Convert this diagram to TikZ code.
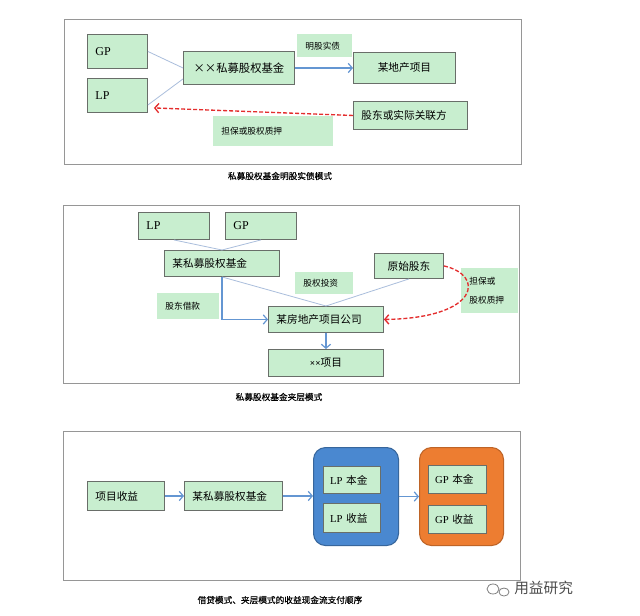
\documentclass[tikz,border=0pt]{standalone}
\usepackage{fontspec}
\setmainfont{Liberation Serif}
\newfontfamily\cjk{Noto Sans CJK SC}
\newfontfamily\cjkcap[FakeBold=0.5]{Noto Sans CJK SC}
\usetikzlibrary{arrows.meta,positioning}
\definecolor{boxgreen}{RGB}{200,238,207}
\definecolor{boxline}{RGB}{105,110,105}
\definecolor{framegray}{RGB}{150,150,150}
\definecolor{linkblue}{RGB}{170,190,220}
\definecolor{flowblue}{RGB}{100,150,210}
\definecolor{pledgered}{RGB}{228,45,45}
\definecolor{lpblue}{RGB}{74,136,208}
\definecolor{gporange}{RGB}{237,125,49}
\tikzset{wh/.code 2 args={\pgfmathsetlengthmacro\boxtw{#1*0.75pt-12pt}%
  \tikzset{text width/.expanded=\boxtw, minimum height=#2*0.75pt}}}
\tikzstyle{block} = [rectangle, draw=boxline, line width=0.7pt, fill=boxgreen,
anchor=north west, inner xsep=6pt, inner ysep=0pt, align=left,
font=\cjk\fontsize{8}{9}\selectfont]
\tikzstyle{latin} = [font=\rmfamily\fontsize{9}{10}\selectfont]
\tikzstyle{tag} = [block, draw=none, font=\cjk\fontsize{6.5}{14}\selectfont]
\tikzstyle{link} = [draw=linkblue, line width=0.6pt]
\tikzstyle{flow} = [draw=flowblue, line width=0.9pt, -{Straight Barb[length=3pt,width=7pt]}]
\tikzstyle{pledge} = [draw=pledgered, line width=1pt, dash pattern=on 3pt off 1.5pt,
-{Straight Barb[length=3pt,width=7pt]}]
\tikzstyle{frame} = [draw=framegray, line width=0.7pt]
\tikzstyle{capt} = [font=\cjkcap\fontsize{6.5}{8}\selectfont]
\tikzstyle{panelgroup} = [rectangle, rounded corners=9pt, line width=0.8pt,
anchor=north west, minimum width=#1]
\begin{document}
\begin{tikzpicture}[x=0.75pt, y=-0.75pt]
  \fill[white] (0,0) rectangle (640,615);
  \useasboundingbox (0,0) rectangle (640,615);

  % Panel 1: 明股实债
  \draw[frame] (64,19) rectangle (521,164);
  \node [block, latin, wh={60}{34}] (gp1) at (87,34) {GP};
  \node [block, latin, wh={60}{34}] (lp1) at (87,78) {LP};
  \node [block, wh={111}{33}, align=center, font=\cjk\fontsize{8.5}{9}\selectfont] (fund1) at (183,51) {××私募股权基金};
  \node [tag, wh={55}{23}] (debt1) at (297,34) {明股实债};
  \node [block, wh={102}{31}, align=center] (proj1) at (353,52) {某地产项目};
  \node [block, wh={114}{28}] (holder1) at (353,101) {股东或实际关联方};
  \node [tag, wh={120}{30}] (pledge1) at (213,116) {担保或股权质押};
  \path [link] (gp1.east) -- (fund1.west);
  \path [link] ([yshift=6pt]lp1.south east) -- ([yshift=4.5pt]fund1.south west);
  \path [flow] (fund1.east) -- (proj1.west);
  \path [pledge] (holder1.west) -- ([xshift=4.5pt,yshift=3.75pt]lp1.south east);
  \node [capt] (cap1) at (280,176) {私募股权基金明股实债模式};

  % Panel 2: 夹层模式
  \draw[frame] (63,205) rectangle (519,383);
  \node [block, latin, wh={71}{27}] (lp2) at (138,212) {LP};
  \node [block, latin, wh={71}{27}] (gp2) at (225,212) {GP};
  \node [block, wh={115}{26}] (fund2) at (164,250) {某私募股权基金};
  \node [block, wh={69}{25}, align=center] (orig2) at (374,253) {原始股东};
  \node [tag, wh={58}{22}] (invest2) at (295,272) {股权投资};
  \node [tag, wh={62}{26}] (loan2) at (157,293) {股东借款};
  \node [block, wh={115}{26}] (comp2) at (268,306) {某房地产项目公司};
  \node [block, wh={115}{27}, align=center] (proj2) at (268,349) {{\rmfamily\bfseries\fontsize{7}{8}\selectfont ××}项目};
  \node [tag, wh={57}{45}] (pledge2) at (461,268) {担保或\\股权质押};
  \path [link] (lp2.south) -- (fund2.north);
  \path [link] (gp2.south) -- (fund2.north);
  \path [link] (fund2.south) -- (comp2.north);
  \path [link] (orig2.south) -- (comp2.north);
  \path [flow] (fund2.south) |- (comp2.west);
  \path [flow] (comp2.south) -- (proj2.north);
  \path [pledge] (orig2.east) .. controls (485,275) and (480,318) .. (comp2.east);
  \node [capt] (cap2) at (279,397) {私募股权基金夹层模式};

  % Panel 3: 收益支付顺序
  \draw[frame] (63,431) rectangle (520,580);
  \node [panelgroup=63.75pt, minimum height=73.5pt, fill=lpblue, draw=lpblue!75!black] (lpgrp) at (313,447) {};
  \node [panelgroup=63pt, minimum height=73.5pt, fill=gporange, draw=gporange!80!black] (gpgrp) at (419,447) {};
  \node [block, wh={77}{29}] (inc3) at (87,481) {项目收益};
  \node [block, wh={98}{29}] (fund3) at (184,481) {某私募股权基金};
  \node [block, wh={60}{27}, inner xsep=5pt] (lpp3) at (323,466) {{\rmfamily LP} 本金};
  \node [block, wh={60}{29}, inner xsep=5pt] (lpi3) at (323,503) {{\rmfamily LP} 收益};
  \node [block, wh={61}{28}, inner xsep=5pt] (gpp3) at (428,465) {{\rmfamily GP} 本金};
  \node [block, wh={61}{28}, inner xsep=5pt] (gpi3) at (428,505) {{\rmfamily GP} 收益};
  \path [flow] (inc3.east) -- (fund3.west);
  \path [flow] (fund3.east) -- (fund3.east -| lpgrp.west);
  \path [flow] (lpgrp.east) -- (lpgrp.east -| gpgrp.west);
  \node [capt] (cap3) at (280,600) {借贷模式、夹层模式的收益现金流支付顺序};

  % watermark
  \draw [gray, line width=0.6pt] (493,589) ellipse [x radius=6, y radius=5];
  \draw [gray, line width=0.6pt] (504,592) ellipse [x radius=5, y radius=4];
  \node [font=\cjk\fontsize{11}{12}\selectfont, text=black!70, anchor=west, inner sep=0pt] (mark) at (514,588) {用益研究};
\end{tikzpicture}
\end{document}
